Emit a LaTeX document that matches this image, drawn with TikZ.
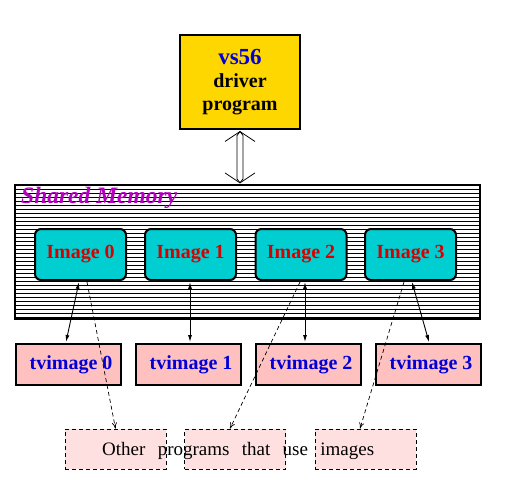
\documentclass[tikz,border=0pt]{standalone}
\usepackage{fontspec}
\setmainfont{Liberation Serif}
\usetikzlibrary{arrows.meta,calc}
\definecolor{gold}{RGB}{255,215,0}
\definecolor{imgcyan}{RGB}{0,206,209}
\definecolor{tvpink}{RGB}{255,192,192}
\definecolor{lightpink}{RGB}{255,224,224}
\definecolor{txtblue}{RGB}{0,0,215}
\definecolor{txtred}{RGB}{215,0,0}
\definecolor{shmpurple}{RGB}{180,0,190}
\tikzset{
  driverbox/.style={draw=black,line width=2pt,fill=gold,minimum width=120pt,minimum height=94pt,inner sep=0pt,align=center,font=\fontsize{20}{23}\selectfont\bfseries},
  imgbox/.style={draw=black,line width=2pt,fill=imgcyan,rounded corners=6pt,minimum width=91pt,minimum height=51pt,inner sep=0pt,font=\fontsize{20}{24}\selectfont\bfseries,text=txtred},
  tvbox/.style={draw=black,line width=2pt,fill=tvpink,minimum width=105pt,minimum height=41pt,inner sep=0pt,font=\fontsize{20}{24}\selectfont\bfseries,text=txtblue},
  otherbox/.style={draw=black,line width=0.8pt,dashed,dash pattern=on 4pt off 3pt,fill=lightpink,minimum width=101pt,minimum height=40pt,inner sep=0pt},
  link/.style={line width=0.9pt,{Latex[length=7pt,width=4pt]}-{Latex[length=7pt,width=4pt]}},
  uselink/.style={line width=0.7pt,dash pattern=on 4pt off 3pt,-{To[length=6pt,width=5pt]}},
}
\begin{document}
\begin{tikzpicture}[x=1pt,y=-1pt]
\useasboundingbox (0,0) rectangle (517,484);
% driver
\node[driverbox] (driver) at (240,82) {\textcolor{txtblue}{\fontsize{23}{26}\selectfont vs56}\\driver\\program};
% shared memory
\node[draw=black,line width=1.2pt,fill=white,minimum width=465pt,minimum height=134pt,inner sep=0pt] (shm) at (247.5,252) {};
\foreach \y in {189,193,...,317} \draw[line width=0.75pt] (15,\y) -- (480,\y);
\draw[line width=1.2pt] (shm.north west) rectangle (shm.south east);
\node[anchor=base west,inner sep=0pt,text=shmpurple,font=\fontsize{23.5}{26}\selectfont\bfseries\itshape] (shmlabel) at (21,204) {Shared Memory};
% double arrow
\coordinate (dt) at ($(driver.south)+(0,1.5)$);
\coordinate (db) at ($(shm.north)+(-7.5,-1.5)$);
\draw[line width=0.8pt] (dt) -- ++(-3,4) -- ($(db)+(-3,-4)$) -- (db);
\draw[line width=0.8pt] (dt) -- ++(3,4) -- ($(db)+(3,-4)$) -- (db);
\draw[line width=0.8pt] ($(dt)+(-15,10)$) -- (dt) -- ($(dt)+(15,10)$);
\draw[line width=0.8pt] ($(db)+(-15,-10)$) -- (db) -- ($(db)+(15,-10)$);
% images
\node[imgbox] (img0) at (80.5,254.5) {Image 0};
\node[imgbox] (img1) at (190.5,254.5) {Image 1};
\node[imgbox] (img2) at (301,254.5) {Image 2};
\node[imgbox] (img3) at (410.5,254.5) {Image 3};
% tvimages
\node[tvbox] (tv0) at (68.5,364.5) {\hspace*{5pt}tvimage 0};
\node[tvbox] (tv1) at (188.5,364.5) {\hspace*{5pt}tvimage 1};
\node[tvbox] (tv2) at (308.5,364.5) {\hspace*{5pt}tvimage 2};
\node[tvbox] (tv3) at (428.5,364.5) {\hspace*{5pt}tvimage 3};
% other programs boxes
\node[otherbox] (oa) at (115.5,449) {};
\node[otherbox] (ob) at (235,449) {};
\node[otherbox] (oc) at (365.5,449) {};
\node[anchor=base west,inner sep=0pt,font=\fontsize{19}{22}\selectfont] (othertext) at (102,455) {\makebox[272pt][s]{Other programs that use images}};
% links
\draw[link] ($(img0.south)+(-1.5,1)$) -- ($(tv0.north)+(-2.5,-1)$);
\draw[link] ($(img1.south)+(-0.5,1)$) -- ($(tv1.north)+(1.5,-1)$);
\draw[link] ($(img2.south)+(4,1)$) -- ($(tv2.north)+(-3.5,-1)$);
\draw[link] ($(img3.south)+(1.5,1)$) -- ($(tv3.north)+(0.5,-1)$);
\draw[uselink] ($(img0.south)+(6.5,1)$) -- (oa.north);
\draw[uselink] ($(img2.south)+(-1,1)$) -- ($(ob.north)+(-5,0)$);
\draw[uselink] ($(img3.south)+(-6.5,1)$) -- ($(oc.north)+(-5.5,0)$);
\end{tikzpicture}
\end{document}
